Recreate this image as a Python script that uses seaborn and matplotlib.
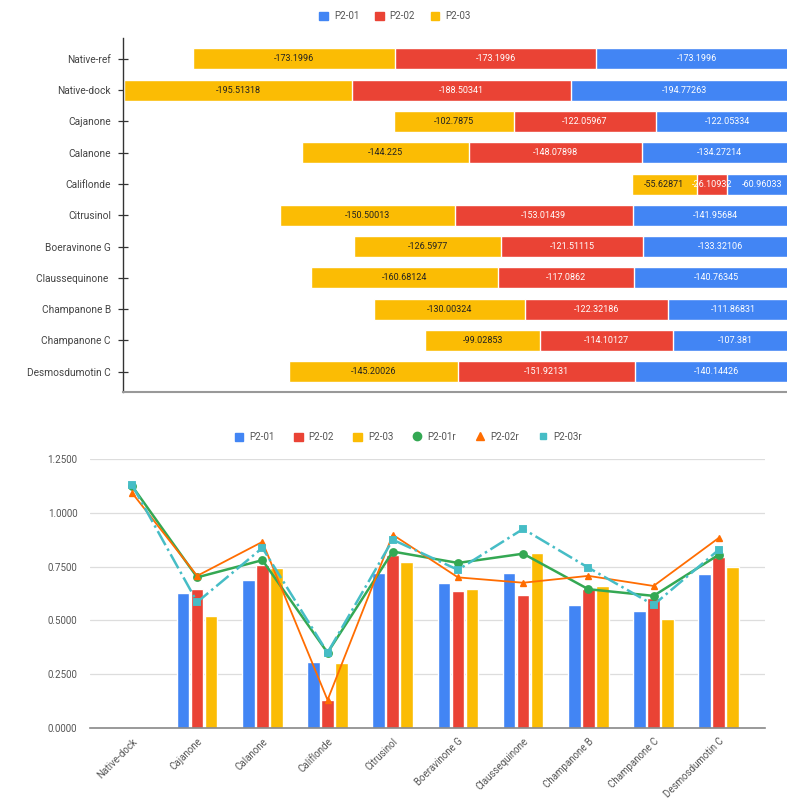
import numpy as np
import pandas as pd
import matplotlib
matplotlib.use("Agg")
import matplotlib.pyplot as plt
from matplotlib.patches import Patch
from matplotlib.lines import Line2D
import seaborn as sns

# top chart data (stacked horizontal bars)
names_top = ["Native-ref", "Native-dock", "Cajanone", "Calanone", "Califlonde",
             "Citrusinol", "Boeravinone G", "Claussequinone ", "Champanone B",
             "Champanone C", "Desmosdumotin C"]
p201 = [-173.1996, -194.77263, -122.05334, -134.27214, -60.96033, -141.95684,
        -133.32106, -140.76345, -111.86831, -107.381, -140.14426]
p202 = [-173.1996, -188.50341, -122.05967, -148.07898, -26.10932, -153.01439,
        -121.51115, -117.0862, -122.32186, -114.10127, -151.92131]
p203 = [-173.1996, -195.51318, -102.7875, -144.225, -55.62871, -150.50013,
        -126.5977, -160.68124, -130.00324, -99.02853, -145.20026]

# bottom chart data
names_bot = ["Native-dock", "Cajanone", "Calanone", "Califlonde", "Citrusinol",
             "Boeravinone G", "Claussequinone", "Champanone B", "Champanone C",
             "Desmosdumotin C"]
b01 = [0.0, 0.628, 0.688, 0.307, 0.720, 0.675, 0.720, 0.572, 0.545, 0.716]
b02 = [0.0, 0.646, 0.758, 0.130, 0.805, 0.637, 0.618, 0.646, 0.605, 0.795]
b03 = [0.0, 0.520, 0.744, 0.302, 0.770, 0.646, 0.813, 0.660, 0.507, 0.749]
r01 = [1.125, 0.700, 0.780, 0.350, 0.820, 0.767, 0.810, 0.645, 0.614, 0.805]
r02 = [1.093, 0.707, 0.865, 0.130, 0.898, 0.700, 0.675, 0.707, 0.660, 0.883]
r03 = [1.130, 0.585, 0.837, 0.350, 0.875, 0.735, 0.925, 0.745, 0.572, 0.828]

BLUE, RED, YELLOW = "#4285F4", "#EA4335", "#FBBC04"
GREEN, ORANGE, TEAL = "#34A853", "#FF6D01", "#46BDC6"

sns.set_style("white")
plt.rcParams["font.family"] = ["Roboto", "DejaVu Sans"]

fig = plt.figure(figsize=(7.87, 8.06), dpi=100)
ax1 = fig.add_axes([122.7 / 787, 1 - 392 / 806, (798 - 122.7) / 787, (392 - 38) / 806])
ax2 = fig.add_axes([90 / 787, 1 - 728 / 806, 675 / 787, (728 - 459) / 806])

# ---- top: stacked bars drawn as overlaid cumulative layers
c1 = np.array(p201)
c2 = c1 + np.array(p202)
c3 = c2 + np.array(p203)
for cum, col in [(c3, YELLOW), (c2, RED), (c1, BLUE)]:
    sns.barplot(x=cum, y=names_top, orient="h", color=col, saturation=1,
                width=0.67, ax=ax1)

for i in range(len(names_top)):
    ax1.text(p201[i] / 2, i, str(p201[i]), ha="center", va="center",
             fontsize=6.5, color="white")
    ax1.text(c1[i] + p202[i] / 2, i, str(p202[i]), ha="center", va="center",
             fontsize=6.5, color="white")
    ax1.text(c2[i] + p203[i] / 2, i, str(p203[i]), ha="center", va="center",
             fontsize=6.5, color="#222222")

ax1.set_xlim(-580.2, 0)
ax1.set_ylim(10.65, -0.67)
ax1.set_xticks([])
ax1.set_xlabel("")
ax1.set_ylabel("")
ax1.tick_params(axis="y", direction="inout", length=7, width=0.9, colors="#333333",
                labelsize=7.3, labelcolor="#444444", left=True, pad=5)
for s in ["top", "right"]:
    ax1.spines[s].set_visible(False)
ax1.spines["left"].set_color("#333333")
ax1.spines["left"].set_linewidth(1.0)
ax1.spines["bottom"].set_color("#999999")
ax1.spines["bottom"].set_linewidth(1.5)

top_handles = [Patch(color=BLUE), Patch(color=RED), Patch(color=YELLOW)]
fig.legend(top_handles, ["P2-01", "P2-02", "P2-03"], loc="center",
           bbox_to_anchor=(395 / 787, 1 - 16 / 806), ncol=3, frameon=False,
           fontsize=7, handlelength=0.9, handleheight=0.9, handletextpad=0.6,
           columnspacing=1.6, labelcolor="#555555")

# ---- bottom: grouped bars + lines
df = pd.DataFrame({"name": names_bot, "P2-01": b01, "P2-02": b02, "P2-03": b03})
long_df = df.melt(id_vars="name", var_name="series", value_name="val")
sns.barplot(data=long_df, x="name", y="val", hue="series", order=names_bot,
            hue_order=["P2-01", "P2-02", "P2-03"], palette=[BLUE, RED, YELLOW],
            saturation=1, width=0.645, gap=0.1, legend=False, ax=ax2)

sns.pointplot(x=names_bot, y=r01, color=GREEN, markers="o", linestyles="-",
              linewidth=1.8, markersize=5, ax=ax2)
sns.pointplot(x=names_bot, y=r02, color=ORANGE, markers="^", linestyles="-",
              linewidth=1.3, markersize=5, ax=ax2)
sns.pointplot(x=names_bot, y=r03, color=TEAL, markers="s", linestyles="-.",
              linewidth=1.8, markersize=5, ax=ax2)

ax2.set_xlim(-0.644, 9.71)
ax2.set_ylim(0, 1.25)
yt = [0, 0.25, 0.5, 0.75, 1.0, 1.25]
ax2.set_yticks(yt)
ax2.set_yticklabels([f"{v:.4f}" for v in yt])
ax2.set_xticks(range(len(names_bot)))
ax2.set_xticklabels(names_bot, rotation=45, ha="right", rotation_mode="anchor")
ax2.set_xlabel("")
ax2.set_ylabel("")
ax2.tick_params(axis="both", length=0, labelsize=7, labelcolor="#555555")
ax2.tick_params(axis="y", pad=9)
ax2.tick_params(axis="x", pad=6)
ax2.yaxis.grid(True, color="#dddddd", linewidth=0.9)
ax2.set_axisbelow(True)
for s in ["top", "right", "left"]:
    ax2.spines[s].set_visible(False)
ax2.spines["bottom"].set_color("#888888")
ax2.spines["bottom"].set_linewidth(1.2)

bot_handles = [Patch(color=BLUE), Patch(color=RED), Patch(color=YELLOW),
               Line2D([], [], color=GREEN, marker="o", linestyle="none", markersize=6),
               Line2D([], [], color=ORANGE, marker="^", linestyle="none", markersize=6),
               Line2D([], [], color=TEAL, marker="s", linestyle="none", markersize=5)]
fig.legend(bot_handles, ["P2-01", "P2-02", "P2-03", "P2-01r", "P2-02r", "P2-03r"],
           loc="center", bbox_to_anchor=(408 / 787, 1 - 437 / 806), ncol=6,
           frameon=False, fontsize=7, handlelength=0.9, handleheight=0.9,
           handletextpad=0.6, columnspacing=2.0, labelcolor="#555555")

fig.savefig("out.png", dpi=100)
